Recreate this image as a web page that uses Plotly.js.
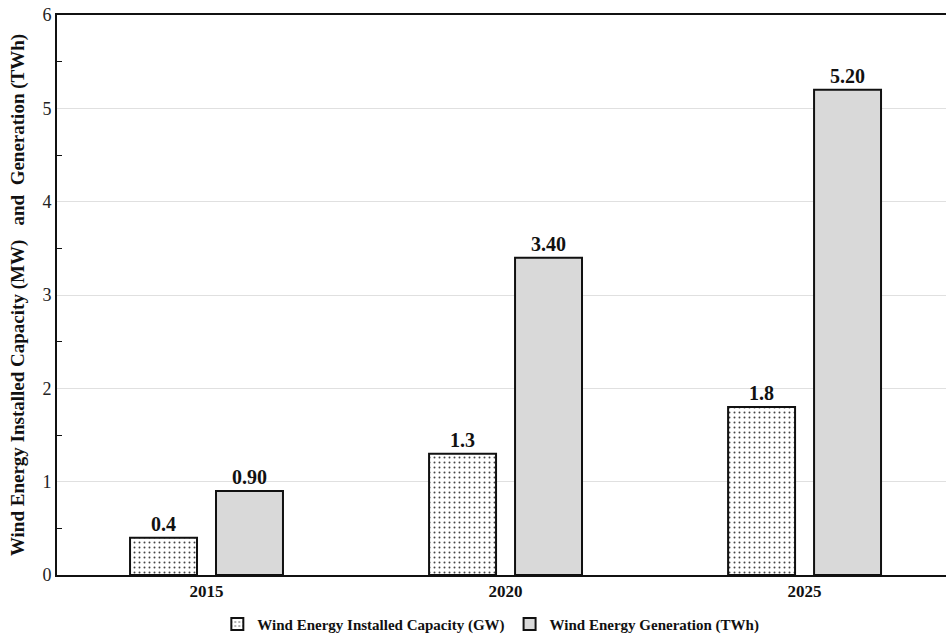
<!DOCTYPE html>
<html>
<head>
<meta charset="utf-8">
<script src="https://cdn.plot.ly/plotly-3.0.1.min.js"></script>
<style>html,body{margin:0;padding:0;background:#fff;}#chart{width:946px;height:641px;}</style>
</head>
<body>
<div id="chart"></div>
<script>
const years = ['2015', '2020', '2025'];
const capacity = [0.4, 1.3, 1.8];
const generation = [0.90, 3.40, 5.20];
const seriesNames = ['Wind Energy Installed Capacity (GW)', 'Wind Energy Generation (TWh)'];
const yTitle = 'Wind Energy Installed Capacity (MW)   and  Generation (TWh)';

const FONT = '"Liberation Serif", "Times New Roman", serif';

const traces = [
  {
    type: 'bar', name: seriesNames[0], x: years, y: capacity,
    texttemplate: '%{y:.1f}', textposition: 'outside', cliponaxis: false,
    textfont: {family: FONT, size: 20, color: '#111', weight: 'bold'},
    marker: {color: '#ffffff', line: {color: '#111', width: 2},
      pattern: {shape: '.', fgcolor: '#444', bgcolor: '#ffffff', size: 5, solidity: 0.12}}
  },
  {
    type: 'bar', name: seriesNames[1], x: years, y: generation,
    texttemplate: '%{y:.2f}', textposition: 'outside', cliponaxis: false,
    textfont: {family: FONT, size: 20, color: '#111', weight: 'bold'},
    marker: {color: '#d9d9d9', line: {color: '#111', width: 2}}
  }
];

const layout = {
  width: 946, height: 641,
  margin: {l: 57, r: 0, t: 15, b: 66},
  paper_bgcolor: '#fff', plot_bgcolor: '#fff',
  font: {family: FONT, color: '#111'},
  bargap: 0.425, bargroupgap: 0.221,
  showlegend: true,
  legend: {orientation: 'h', x: 0.488, xanchor: 'center', y: -0.088, yanchor: 'middle',
    font: {family: FONT, size: 15, color: '#111', weight: 'bold'}, itemwidth: 20, tracegroupgap: 0},
  xaxis: {
    type: 'category', range: [-0.5, 2.473], showline: true, linecolor: '#111', linewidth: 2, mirror: true,
    ticks: '', tickfont: {family: FONT, size: 17, color: '#111', weight: 'bold'},
    showgrid: false, zeroline: false
  },
  yaxis: {
    range: [0, 6], dtick: 1, showline: true, linecolor: '#111', linewidth: 2,
    ticks: 'inside', ticklen: 0, tickfont: {family: FONT, size: 18, color: '#222'},
    showgrid: true, gridcolor: '#e0e0e0', gridwidth: 1, zeroline: false,
    minor: {dtick: 0.5, ticks: 'inside', ticklen: 5, tickcolor: '#111', showgrid: false},
    title: {text: yTitle, font: {family: FONT, size: 19, color: '#111', weight: 'bold'}, standoff: 13}
  }
};

Plotly.newPlot('chart', traces, layout, {displayModeBar: false, staticPlot: true});
</script>
</body>
</html>
